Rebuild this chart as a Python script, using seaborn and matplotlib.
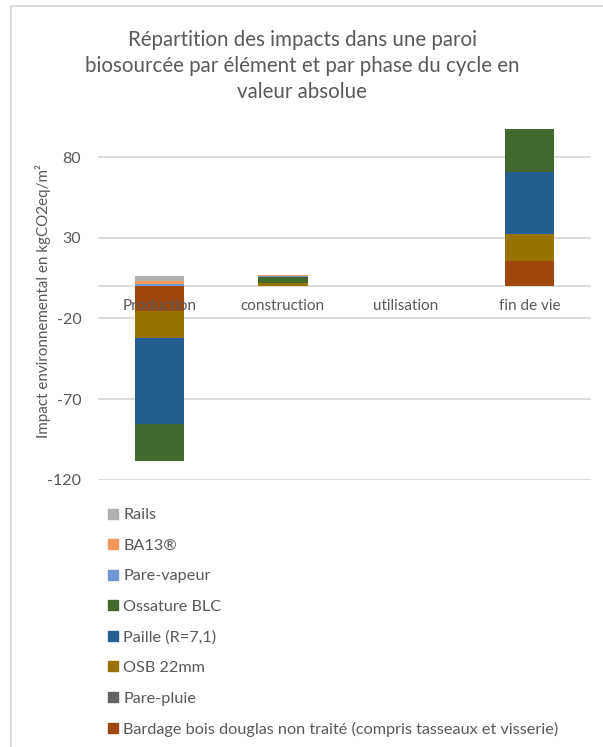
import numpy as np
import pandas as pd
import matplotlib
matplotlib.use("Agg")
import matplotlib.pyplot as plt
import seaborn as sns
from matplotlib.lines import Line2D

# donnees (kgCO2eq/m2)
phases = ["Production", "construction", "utilisation", "fin de vie"]
series = ["Bardage bois douglas non traité (compris tasseaux et visserie)",
          "Pare-pluie", "OSB 22mm", "Paille (R=7,1)", "Ossature BLC",
          "Pare-vapeur", "BA13®", "Rails"]
bardage = [-15.4, 0.0, 0.0, 15.4]
pare_pluie = [-0.2, 0.0, 0.0, 0.1]
osb = [-16.4, 2.0, 0.0, 16.5]
paille = [-53.5, 0.2, 0.0, 38.6]
ossature = [-23.0, 3.2, 0.0, 26.5]
pare_vapeur = [1.3, 0.6, 0.0, 0.0]
ba13 = [1.6, 0.8, 0.0, 0.0]
rails = [3.5, 0.1, 0.0, 0.0]
colors = ["#9E480E", "#636363", "#997300", "#255E91", "#43682B",
          "#7296D3", "#F1975A", "#B0B0B0"]
yticks = [-120, -70, -20, 30, 80]

values = [bardage, pare_pluie, osb, paille, ossature, pare_vapeur, ba13, rails]

sns.set_style("white")
plt.rcParams['font.family'] = ['Lato', 'DejaVu Sans']
grey = "#595959"

fig = plt.figure(figsize=(6.03, 7.47), dpi=100)
W, H = 603, 747
ax = fig.add_axes([98 / W, 1 - 479.7 / H, (591 - 98) / W, (479.7 - 124.8) / H])

# empilement facon Excel : positifs vers le haut, negatifs vers le bas
pos_base = np.zeros(len(phases))
neg_base = np.zeros(len(phases))
for name, vals, col in zip(series, values, colors):
    vals = np.array(vals, dtype=float)
    bottoms = np.where(vals >= 0, pos_base, neg_base)
    d = pd.DataFrame({"phase": phases, "val": vals})
    sns.barplot(data=d, x="phase", y="val", order=phases, color=col,
                saturation=1, width=0.4, errorbar=None, bottom=bottoms,
                linewidth=0, ax=ax, zorder=3)
    pos_base += np.where(vals >= 0, vals, 0)
    neg_base += np.where(vals < 0, vals, 0)

ax.set_ylim(-120, 100)
ax.set_xlim(-0.5, len(phases) - 0.5)
ax.set_yticks(yticks)
ax.set_yticklabels([str(t) for t in yticks], color=grey, fontsize=11.5)
ax.tick_params(axis="y", length=0, pad=12)
ax.tick_params(axis="x", length=0)
ax.set_xticks([])
ax.set_xlabel("")
ax.set_ylabel("")
for t in yticks + [0]:
    ax.axhline(t, color="#D9D9D9", lw=1.3, zorder=1)
for s in ax.spines.values():
    s.set_visible(False)

for i, p in enumerate(phases):
    ax.annotate(p, xy=(i, 0), xytext=(0, -14), textcoords="offset points",
                ha="center", va="center", color=grey, fontsize=11, zorder=5)

title_lines = ["Répartition des impacts dans une paroi",
               "biosourcée par élément et par phase du cycle en",
               "valeur absolue"]
for k, line in enumerate(title_lines):
    fig.text(302 / W, 1 - (40 + 26 * k) / H, line,
             ha="center", va="center", color=grey, fontsize=14.8)

fig.text(43.5 / W, 1 - 301.5 / H, "Impact environnemental en kgCO2eq/m²",
         rotation=90, ha="center", va="center", color=grey, fontsize=10.9)

# legende verticale sous le graphique (Rails en haut)
handles = [Line2D([], [], marker="s", ls="", markersize=7.2,
                  markerfacecolor=c, markeredgecolor=c)
           for c in colors[::-1]]
leg = fig.legend(handles, series[::-1], loc="upper left",
                 bbox_to_anchor=(108.3 / W, 1 - 508 / H), frameon=False,
                 fontsize=11.7, labelspacing=0.995, handlelength=0.615,
                 handletextpad=0.29, borderaxespad=0, borderpad=0)
for t in leg.get_texts():
    t.set_color(grey)

# cadre du graphique
fig.add_artist(Line2D([11 / W, 11 / W], [0, 1 - 6 / H], color="#D9D9D9",
                      lw=1.3, transform=fig.transFigure))
fig.add_artist(Line2D([11 / W, 1], [1 - 6 / H, 1 - 6 / H], color="#D9D9D9",
                      lw=1.3, transform=fig.transFigure))

fig.savefig("out.png", dpi=100)
